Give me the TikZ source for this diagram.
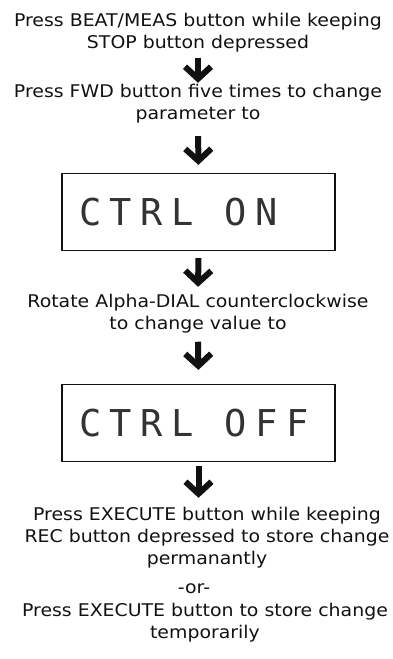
\documentclass[tikz,border=0pt]{standalone}
\usepackage{fontspec}
\setmainfont{DejaVu Sans}[FakeStretch=1.08]
\newfontfamily\lcdfont{DejaVu Sans Mono}[LetterSpace=23]
\usepackage{xcolor}
\usepackage{tikz}
\usetikzlibrary{positioning, arrows.meta}
\definecolor{inkBlack}{HTML}{111111}
\definecolor{lcdInk}{HTML}{333333}

\begin{document}
\begin{tikzpicture}[x=1pt, y=1pt, inkBlack,
  steptext/.style={align=center, inner sep=0pt, anchor=base, font=\fontsize{17.5}{22}\selectfont},
  lcdbox/.style={draw, line width=1.2pt, minimum width=273pt, minimum height=77pt, inner sep=0pt},
  lcdtext/.style={anchor=base west, inner sep=0pt, text=lcdInk, font=\lcdfont\fontsize{37}{40}\selectfont},
  flow/.style={line width=6pt, -{Straight Barb[length=12pt, width=26pt, sharp]}}]
  \useasboundingbox (0,0) rectangle (392,-659);
  \node[steptext] (stepBeat) at (198,-48.3) {Press BEAT/MEAS button while keeping\\STOP button depressed};
  \node[steptext] (stepFwd) at (198,-119.3) {Press FWD button five times to change\\parameter to};
  \foreach \name/\y/\word in {lcdOn/212/{CTRL ON}, lcdOff/423/{CTRL OFF}}{
    \node[lcdbox] (\name) at (198.5,-\y) {};
    \node[lcdtext] (\name Text) at (79,-\y-13.5) {\word};
  }
  \node[steptext] (stepDial) at (198,-329.3) {Rotate Alpha-DIAL counterclockwise\\to change value to};
  \node[steptext] (stepExec) at (207,-564.3) {Press EXECUTE button while keeping\\REC button depressed to store change\\permanantly};
  \node[steptext] (orNote) at (194,-593) {-or-};
  \node[steptext] (stepTemp) at (205,-638.5) {Press EXECUTE button to store change\\temporarily};
  \draw[flow, shorten <=5.5pt, shorten >=1pt] (stepBeat.south) -- (stepFwd.north);
  \draw[flow, shorten <=13pt, shorten >=8pt] (stepFwd.south) -- (lcdOn.north);
  \draw[flow, shorten <=7pt, shorten >=7pt] (lcdOn.south) -- (stepDial.north);
  \draw[flow, shorten <=8.6pt, shorten >=14pt] (stepDial.south) -- (lcdOff.north);
  \draw[flow, shorten <=4pt, shorten >=9pt] (lcdOff.south) -- (lcdOff.south |- stepExec.north);
\end{tikzpicture}
\end{document}
